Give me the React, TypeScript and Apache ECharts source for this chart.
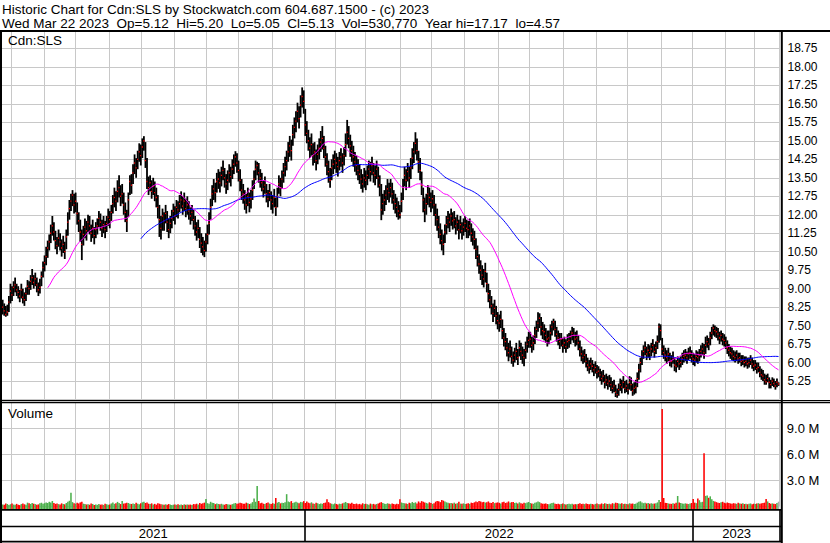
import React, { useEffect, useRef } from "react";
import * as echarts from "echarts";

// ---------------- DATA ----------------
const closes: number[] = [
  8.25, 8.10, 7.95, 8.05, 8.45, 8.90, 8.75, 9.05, 9.15, 8.95,
  8.85, 8.70, 8.95, 8.65, 8.55, 8.80, 9.10, 9.00, 9.30, 9.45,
  9.25, 9.40, 9.15, 8.95, 9.05, 9.50, 9.85, 10.05, 10.30, 10.65,
  10.90, 11.25, 11.55, 11.30, 10.95, 10.75, 11.05, 10.90, 10.65, 10.80,
  10.50, 11.10, 11.70, 12.25, 12.55, 12.80, 12.40, 12.55, 12.05, 11.75,
  11.30, 10.80, 11.20, 11.50, 11.35, 11.70, 11.55, 11.25, 11.45, 11.15,
  11.40, 11.55, 11.85, 11.70, 11.45, 11.60, 11.40, 11.65, 11.90, 11.80,
  12.10, 12.45, 12.70, 12.55, 12.95, 13.10, 12.75, 12.85, 12.40, 12.10,
  11.75, 12.60, 13.35, 13.20, 13.70, 14.10, 13.90, 14.25, 14.55, 14.40,
  14.75, 15.00, 14.20, 13.35, 13.10, 13.30, 12.95, 13.15, 12.90, 12.70,
  12.30, 11.80, 11.45, 11.95, 11.75, 12.05, 11.70, 11.40, 11.65, 11.85,
  12.15, 11.95, 12.30, 12.20, 12.45, 12.60, 12.35, 12.55, 12.25, 12.40,
  12.15, 11.95, 12.10, 11.80, 11.55, 11.30, 11.45, 11.00, 10.85, 10.70,
  10.55, 10.90, 11.20, 11.65, 12.30, 12.85, 13.05, 12.90, 13.35, 13.45,
  13.30, 13.60, 13.80, 13.50, 13.25, 13.40, 13.70, 13.55, 13.85, 14.05,
  14.35, 14.10, 13.80, 13.40, 13.00, 12.85, 12.60, 12.40, 12.75, 12.50,
  12.65, 13.00, 13.45, 13.85, 14.00, 13.70, 13.50, 13.30, 13.05, 13.20,
  12.85, 12.65, 12.90, 12.60, 12.45, 12.70, 12.30, 12.75, 13.25, 13.10,
  13.45, 13.70, 13.95, 14.20, 14.55, 14.80, 14.60, 15.25, 15.55, 15.80,
  16.20, 15.90, 16.45, 16.80, 16.60, 15.65, 15.30, 15.00, 14.70, 14.85,
  14.40, 14.55, 14.20, 14.45, 14.70, 14.95, 15.10, 14.70, 14.35, 14.05,
  13.75, 13.40, 13.90, 14.05, 14.25, 14.10, 13.95, 14.20, 14.35, 14.10,
  14.40, 14.85, 15.35, 15.10, 14.80, 14.60, 14.35, 14.15, 14.00, 13.80,
  13.65, 13.45, 13.25, 13.50, 13.40, 13.60, 13.85, 13.75, 14.00, 13.70,
  13.60, 13.85, 13.50, 13.20, 12.20, 12.45, 12.60, 12.80, 13.05, 12.90,
  13.10, 12.85, 12.60, 12.45, 12.30, 12.15, 12.00, 12.55, 13.10, 13.60,
  13.40, 13.75, 13.50, 13.90, 14.30, 14.55, 14.90, 14.60, 14.15, 13.80,
  13.20, 12.60, 12.20, 12.45, 12.85, 12.70, 12.50, 12.65, 12.40, 12.00,
  11.80, 11.50, 11.20, 10.95, 10.80, 11.30, 11.60, 11.85, 11.70, 11.95,
  11.75, 11.80, 11.55, 11.70, 11.40, 11.60, 11.35, 11.50, 11.65, 11.45,
  11.40, 11.55, 11.25, 11.10, 11.00, 10.60, 10.30, 10.00, 9.75, 9.55,
  9.40, 9.70, 9.20, 8.80, 8.55, 8.30, 8.00, 8.20, 7.90, 7.70,
  7.60, 7.75, 7.30, 7.00, 6.85, 6.60, 6.40, 6.55, 6.25, 6.10,
  6.30, 6.45, 6.20, 6.60, 6.45, 6.30, 6.20, 6.50, 6.75, 6.90,
  6.95, 6.70, 6.80, 7.10, 7.35, 7.60, 7.80, 7.45, 7.30, 7.25,
  7.10, 6.95, 7.00, 7.20, 7.45, 7.65, 7.35, 7.15, 7.00, 6.85,
  6.95, 6.70, 6.80, 6.65, 6.85, 6.90, 7.05, 7.20, 7.10, 6.95,
  7.00, 6.80, 6.55, 6.35, 6.20, 6.30, 6.05, 5.90, 5.80, 5.95,
  5.85, 5.70, 5.80, 5.60, 5.65, 5.50, 5.35, 5.45, 5.20, 5.30, 5.15,
  5.25, 5.10, 4.95, 5.05, 4.80, 4.70, 4.90, 5.10, 5.00, 5.20,
  4.95, 5.05, 4.90, 5.20, 5.10, 4.85, 4.95, 5.00, 5.35, 5.70,
  6.00, 6.25, 6.45, 6.60, 6.35, 6.50, 6.40, 6.55, 6.70, 6.45,
  6.60, 6.85, 7.45, 7.30, 6.55, 6.40, 6.30, 6.20, 6.35, 6.10,
  6.05, 6.20, 5.90, 5.85, 6.05, 5.95, 6.00, 6.15, 6.25, 6.30,
  6.20, 6.35, 6.40, 6.25, 6.15, 6.10, 6.25, 6.20, 6.30, 6.45,
  6.55, 6.40, 6.70, 6.85, 6.75, 7.00, 7.20, 7.40, 7.30, 7.25,
  7.15, 7.00, 7.10, 6.95, 6.90, 6.80, 6.60, 6.50, 6.40, 6.35,
  6.25, 6.20, 6.30, 6.15, 6.20, 6.05, 6.10, 6.00, 6.05, 5.95,
  6.00, 6.10, 5.95, 5.85, 5.90, 5.75, 5.80, 5.60, 5.50, 5.45,
  5.30, 5.22, 5.35, 5.20, 5.10, 5.25, 5.15, 5.05, 5.20, 5.13,
];

const highs: number[] = [
  8.55, 8.40, 8.30, 8.35, 8.70, 9.20, 9.10, 9.30, 9.45, 9.20,
  9.10, 8.95, 9.20, 9.00, 8.85, 9.05, 9.35, 9.30, 9.55, 9.80,
  9.55, 9.65, 9.45, 9.25, 9.40, 9.70, 10.10, 10.35, 10.70, 10.95,
  11.20, 11.60, 11.95, 11.70, 11.35, 11.10, 11.40, 11.25, 11.00, 11.15,
  10.90, 11.40, 12.10, 12.60, 12.85, 13.00, 12.85, 12.90, 12.50, 12.10,
  11.80, 11.40, 11.55, 11.85, 11.75, 12.00, 11.95, 11.60, 11.80, 11.50,
  11.70, 11.85, 12.15, 12.05, 11.80, 11.95, 11.75, 11.95, 12.25, 12.15,
  12.40, 12.80, 13.10, 12.95, 13.40, 13.60, 13.20, 13.25, 12.90, 12.50,
  12.20, 12.90, 13.60, 13.65, 14.05, 14.45, 14.30, 14.60, 14.90, 14.85,
  15.10, 15.19, 14.95, 14.30, 13.55, 13.60, 13.40, 13.50, 13.35, 13.10,
  12.80, 12.40, 11.95, 12.25, 12.10, 12.40, 12.15, 11.85, 11.95, 12.20,
  12.45, 12.35, 12.60, 12.55, 12.80, 12.95, 12.75, 12.90, 12.65, 12.75,
  12.55, 12.30, 12.40, 12.20, 11.95, 11.70, 11.80, 11.50, 11.25, 11.10,
  10.95, 11.25, 11.60, 12.10, 12.65, 13.20, 13.45, 13.30, 13.70, 13.85,
  13.75, 13.95, 14.20, 13.90, 13.65, 13.80, 14.05, 13.95, 14.25, 14.45,
  14.58, 14.50, 14.20, 13.85, 13.45, 13.25, 13.00, 12.85, 13.10, 12.90,
  13.00, 13.40, 13.80, 14.20, 14.15, 14.10, 13.85, 13.70, 13.40, 13.55,
  13.25, 13.00, 13.25, 12.95, 12.80, 13.05, 12.70, 13.10, 13.60, 13.50,
  13.80, 14.10, 14.35, 14.60, 14.95, 15.20, 15.05, 15.65, 15.95, 16.20,
  16.55, 16.40, 16.85, 17.17, 17.05, 16.30, 15.80, 15.45, 15.15, 15.30,
  14.90, 14.95, 14.65, 14.85, 15.10, 15.40, 15.60, 15.20, 14.80, 14.50,
  14.20, 13.90, 14.25, 14.45, 14.60, 14.50, 14.35, 14.55, 14.70, 14.50,
  14.75, 15.30, 15.85, 15.60, 15.25, 15.00, 14.80, 14.55, 14.40, 14.25,
  14.05, 13.85, 13.65, 13.90, 13.80, 14.00, 14.20, 14.15, 14.35, 14.10,
  14.00, 14.20, 13.95, 13.60, 13.25, 12.85, 13.00, 13.20, 13.45, 13.30,
  13.45, 13.30, 13.00, 12.85, 12.70, 12.55, 12.40, 12.90, 13.45, 13.95,
  13.85, 14.10, 13.95, 14.30, 14.70, 14.95, 15.35, 15.10, 14.60, 14.30,
  13.75, 13.10, 12.70, 12.85, 13.20, 13.10, 12.90, 13.00, 12.80, 12.45,
  12.25, 11.95, 11.65, 11.40, 11.20, 11.60, 11.95, 12.15, 12.05, 12.25,
  12.10, 12.15, 11.90, 12.00, 11.80, 11.95, 11.70, 11.85, 11.95, 11.80,
  11.75, 11.85, 11.65, 11.45, 11.35, 11.05, 10.75, 10.40, 10.15, 9.95,
  9.80, 10.05, 9.65, 9.20, 8.95, 8.70, 8.40, 8.55, 8.30, 8.05,
  7.95, 8.10, 7.75, 7.40, 7.20, 7.00, 6.80, 6.90, 6.65, 6.45,
  6.60, 6.80, 6.55, 6.90, 6.80, 6.65, 6.55, 6.85, 7.05, 7.25,
  7.25, 7.05, 7.10, 7.45, 7.70, 8.04, 8.00, 7.85, 7.65, 7.55,
  7.40, 7.30, 7.30, 7.55, 7.70, 7.78, 7.70, 7.45, 7.30, 7.20,
  7.20, 7.00, 7.05, 6.95, 7.15, 7.20, 7.30, 7.45, 7.40, 7.25,
  7.30, 7.10, 6.90, 6.65, 6.50, 6.55, 6.35, 6.20, 6.10, 6.20,
  6.10, 5.95, 6.05, 5.90, 5.85, 5.75, 5.65, 5.70, 5.50, 5.55, 5.45,
  5.50, 5.40, 5.25, 5.30, 5.10, 4.95, 5.15, 5.35, 5.30, 5.45,
  5.25, 5.30, 5.15, 5.45, 5.40, 5.15, 5.20, 5.30, 5.60, 5.95,
  6.20, 6.50, 6.70, 6.85, 6.65, 6.75, 6.70, 6.80, 6.95, 6.75,
  6.85, 7.10, 7.59, 7.55, 7.00, 6.70, 6.60, 6.50, 6.60, 6.40,
  6.30, 6.45, 6.20, 6.10, 6.25, 6.20, 6.25, 6.40, 6.50, 6.55,
  6.45, 6.60, 6.65, 6.50, 6.40, 6.35, 6.50, 6.45, 6.55, 6.70,
  6.80, 6.75, 7.05, 7.10, 7.00, 7.25, 7.45, 7.55, 7.50, 7.45,
  7.40, 7.25, 7.30, 7.20, 7.15, 7.05, 6.90, 6.75, 6.65, 6.60,
  6.50, 6.45, 6.50, 6.40, 6.40, 6.30, 6.30, 6.25, 6.25, 6.20,
  6.20, 6.30, 6.20, 6.10, 6.10, 6.00, 6.00, 5.85, 5.75, 5.70,
  5.55, 5.50, 5.55, 5.40, 5.30, 5.40, 5.35, 5.25, 5.35, 5.20,
];

const lows: number[] = [
  7.95, 7.90, 7.86, 7.90, 8.05, 8.40, 8.50, 8.70, 8.85, 8.70,
  8.60, 8.45, 8.60, 8.40, 8.30, 8.50, 8.75, 8.75, 8.95, 9.15,
  9.00, 9.10, 8.85, 8.70, 8.80, 9.10, 9.45, 9.70, 9.95, 10.25,
  10.55, 10.85, 11.15, 10.95, 10.60, 10.40, 10.70, 10.55, 10.30, 10.45,
  10.20, 10.60, 11.15, 11.80, 12.15, 12.35, 12.05, 12.10, 11.60, 11.30,
  10.90, 10.16, 10.75, 11.05, 10.95, 11.30, 11.20, 10.90, 11.05, 10.80,
  11.05, 11.20, 11.50, 11.35, 11.10, 11.25, 11.05, 11.30, 11.55, 11.45,
  11.75, 12.05, 12.30, 12.15, 12.50, 12.70, 12.35, 12.45, 12.00, 11.70,
  11.30, 11.90, 12.80, 12.85, 13.25, 13.65, 13.50, 13.85, 14.15, 14.00,
  14.30, 14.60, 13.90, 13.05, 12.80, 12.95, 12.65, 12.80, 12.55, 12.30,
  11.85, 11.10, 11.00, 11.35, 11.35, 11.65, 11.30, 11.05, 11.25, 11.45,
  11.75, 11.60, 11.90, 11.85, 12.10, 12.25, 12.00, 12.15, 11.90, 12.00,
  11.80, 11.60, 11.75, 11.40, 11.15, 10.95, 11.05, 10.65, 10.45, 10.35,
  10.28, 10.50, 10.80, 11.20, 11.80, 12.35, 12.60, 12.50, 12.90, 13.05,
  12.90, 13.15, 13.40, 13.10, 12.85, 13.00, 13.30, 13.15, 13.45, 13.65,
  13.95, 13.70, 13.35, 12.95, 12.60, 12.45, 12.20, 12.05, 12.35, 12.10,
  12.25, 12.60, 13.05, 13.40, 13.60, 13.30, 13.10, 12.95, 12.70, 12.85,
  12.50, 12.30, 12.55, 12.20, 12.05, 12.30, 11.95, 12.30, 12.85, 12.75,
  13.05, 13.30, 13.55, 13.80, 14.15, 14.35, 14.20, 14.80, 15.10, 15.35,
  15.75, 15.50, 15.95, 16.35, 16.10, 15.20, 14.90, 14.60, 14.30, 14.40,
  14.00, 14.10, 13.80, 14.05, 14.25, 14.55, 14.65, 14.30, 13.95, 13.60,
  13.30, 13.10, 13.40, 13.65, 13.85, 13.70, 13.55, 13.80, 13.95, 13.70,
  14.00, 14.35, 14.85, 14.70, 14.35, 14.15, 13.95, 13.75, 13.60, 13.40,
  13.25, 13.05, 12.90, 13.10, 13.00, 13.20, 13.45, 13.35, 13.60, 13.30,
  13.20, 13.45, 13.10, 12.75, 11.78, 12.00, 12.15, 12.40, 12.60, 12.50,
  12.70, 12.45, 12.20, 12.05, 11.90, 11.80, 11.85, 12.10, 12.60, 13.15,
  13.00, 13.35, 13.10, 13.45, 13.85, 14.10, 14.45, 14.20, 13.70, 13.40,
  12.80, 12.10, 11.70, 12.00, 12.40, 12.30, 12.10, 12.25, 11.95, 11.55,
  11.35, 11.05, 10.80, 10.55, 10.36, 10.85, 11.20, 11.45, 11.30, 11.55,
  11.40, 11.45, 11.20, 11.35, 11.00, 11.25, 11.00, 11.15, 11.30, 11.05,
  11.05, 11.15, 10.90, 10.75, 10.60, 10.20, 9.90, 9.60, 9.35, 9.15,
  9.05, 9.25, 8.85, 8.45, 8.20, 7.95, 7.65, 7.85, 7.55, 7.35,
  7.25, 7.40, 6.95, 6.65, 6.50, 6.25, 6.05, 6.20, 5.95, 5.83,
  6.00, 6.10, 5.90, 6.25, 6.10, 5.95, 5.85, 6.15, 6.40, 6.60,
  6.60, 6.40, 6.50, 6.75, 7.00, 7.25, 7.40, 7.10, 6.95, 6.90,
  6.80, 6.65, 6.75, 6.90, 7.10, 7.30, 7.05, 6.85, 6.70, 6.55,
  6.65, 6.40, 6.55, 6.40, 6.55, 6.60, 6.75, 6.90, 6.80, 6.65,
  6.70, 6.50, 6.25, 6.05, 5.95, 6.00, 5.80, 5.65, 5.55, 5.70,
  5.60, 5.45, 5.55, 5.35, 5.40, 5.25, 5.10, 5.20, 4.95, 5.05, 4.90,
  5.00, 4.85, 4.75, 4.80, 4.60, 4.57, 4.65, 4.85, 4.75, 4.95,
  4.75, 4.80, 4.70, 4.90, 4.85, 4.65, 4.70, 4.75, 5.00, 5.30,
  5.60, 5.90, 6.15, 6.30, 6.10, 6.20, 6.10, 6.25, 6.40, 6.20,
  6.35, 6.55, 6.80, 6.90, 6.30, 6.15, 6.05, 5.95, 6.05, 5.85,
  5.80, 5.95, 5.65, 5.60, 5.80, 5.70, 5.80, 5.90, 6.00, 6.05,
  5.95, 6.10, 6.15, 6.00, 5.90, 5.85, 6.00, 5.95, 6.05, 6.20,
  6.30, 6.15, 6.35, 6.60, 6.50, 6.70, 6.95, 7.10, 7.05, 7.00,
  6.90, 6.75, 6.85, 6.70, 6.65, 6.55, 6.35, 6.25, 6.15, 6.10,
  6.05, 6.00, 6.05, 5.95, 6.00, 5.85, 5.90, 5.80, 5.85, 5.75,
  5.80, 5.90, 5.75, 5.65, 5.70, 5.55, 5.60, 5.40, 5.30, 5.25,
  5.10, 5.10, 5.20, 4.95, 4.95, 5.05, 5.00, 4.90, 5.00, 5.05,
];

// daily volume, thousands of shares
const volumesK: number[] = [
  220, 180, 310, 260, 150, 240, 330, 200, 170, 280,
  190, 140, 260, 310, 230, 180, 420, 350, 270, 390,
  300, 250, 180, 220, 340, 410, 290, 360, 450, 380,
  520, 430, 610, 390, 280, 310, 250, 200, 340, 270,
  230, 380, 520, 640, 1560, 480, 360, 300, 410, 330,
  450, 520, 300, 260, 210, 240, 180, 330, 270, 150,
  200, 170, 260, 190, 220, 160, 300, 240, 180, 210,
  330, 450, 280, 360, 510, 390, 260, 600, 310, 350,
  420, 380, 300, 270, 330, 260, 410, 300, 230, 350,
  460, 520, 380, 440, 300, 260, 340, 220, 280, 190,
  360, 300, 250, 210, 180, 230, 170, 260, 200, 150,
  190, 220, 170, 250, 160, 200, 140, 230, 180, 210,
  170, 200, 150, 260, 230, 300, 210, 380, 290, 340,
  420, 840, 360, 300, 520, 410, 380, 250, 330, 270,
  240, 290, 210, 180, 260, 230, 200, 170, 250, 320,
  380, 290, 330, 410, 360, 280, 300, 420, 350, 270,
  310, 480, 900, 520, 2330, 610, 350, 420, 300, 270,
  380, 440, 320, 260, 360, 290, 950, 420, 500, 340,
  410, 380, 470, 1400, 560, 480, 600, 390, 450, 520,
  430, 360, 510, 470, 600, 380, 540, 420, 350, 460,
  310, 280, 400, 350, 260, 320, 290, 380, 430, 800,
  480, 360, 300, 250, 330, 270, 220, 300, 260, 340,
  420, 500, 380, 350, 300, 410, 280, 260, 320, 230,
  280, 200, 350, 260, 300, 240, 190, 310, 250, 280,
  220, 270, 330, 410, 480, 380, 300, 260, 350, 290,
  240, 310, 270, 220, 300, 250, 800, 440, 380, 350,
  320, 270, 410, 360, 500, 380, 460, 330, 560, 420,
  600, 520, 440, 390, 310, 460, 380, 280, 350, 530,
  620, 580, 480, 720, 650, 540, 460, 400, 350, 380,
  330, 420, 300, 360, 520, 310, 280, 340, 260, 300,
  350, 280, 420, 380, 460, 540, 480, 620, 560, 470,
  510, 430, 480, 560, 420, 380, 500, 360, 420, 450,
  400, 330, 470, 520, 380, 450, 560, 420, 480, 500,
  380, 420, 320, 460, 350, 300, 400, 360, 430, 500,
  380, 330, 290, 420, 460, 540, 480, 350, 300, 280,
  330, 260, 240, 310, 380, 420, 300, 260, 280, 230,
  270, 320, 250, 220, 260, 300, 240, 280, 210, 250,
  230, 280, 340, 260, 300, 250, 320, 270, 230, 290,
  260, 220, 280, 310, 250, 240, 330, 270, 350, 300, 260,
  300, 250, 360, 280, 420, 380, 330, 290, 340, 260,
  300, 270, 230, 350, 280, 320, 260, 300, 420, 520,
  580, 450, 360, 400, 330, 380, 300, 350, 280, 320,
  360, 450, 720, 500, 11230, 960, 400, 380, 330, 300,
  280, 350, 300, 420, 1190, 450, 380, 320, 290, 340,
  300, 260, 330, 380, 850, 420, 360, 900, 700, 480,
  520, 6120, 1200, 1250, 980, 1150, 800, 620, 550, 480,
  420, 380, 460, 520, 400, 350, 440, 380, 330, 300,
  360, 310, 280, 400, 330, 290, 350, 260, 300, 240,
  280, 330, 250, 300, 270, 320, 360, 280, 340, 380,
  420, 850, 560, 380, 300, 340, 290, 260, 380, 531,
];

const MA_SHORT = 30;
const MA_LONG = 90;

const priceMin = 4.5;
const priceMax = 19.5;
const priceStep = 0.75;
const volMax = 12e6;
const volStep = 3e6;

const titleLine = "Historic Chart for Cdn:SLS by Stockwatch.com 604.687.1500 - (c) 2023";
const quoteLine =
  "Wed Mar 22 2023\u00a0\u00a0Op=5.12\u00a0\u00a0Hi=5.20\u00a0\u00a0Lo=5.05\u00a0\u00a0Cl=5.13\u00a0\u00a0Vol=530,770\u00a0\u00a0Year hi=17.17\u00a0\u00a0lo=4.57";

const HOLIDAYS = [
  "2021-04-02", "2021-05-24", "2021-07-01", "2021-08-02", "2021-09-06", "2021-10-11",
  "2021-12-27", "2021-12-28", "2022-01-03", "2022-02-21", "2022-04-15", "2022-05-23",
  "2022-07-01", "2022-08-01", "2022-09-05", "2022-10-10", "2022-12-26", "2022-12-27",
  "2023-01-02", "2023-02-20",
];

function tradingDays(): string[] {
  const out: string[] = [];
  const d = new Date(Date.UTC(2021, 2, 24));
  const end = Date.UTC(2023, 2, 22);
  while (d.getTime() <= end) {
    const wd = d.getUTCDay();
    const s = d.toISOString().slice(0, 10);
    if (wd !== 0 && wd !== 6 && HOLIDAYS.indexOf(s) < 0) out.push(s);
    d.setUTCDate(d.getUTCDate() + 1);
  }
  return out;
}

const FONT = '"Liberation Sans", Arial, Helvetica, sans-serif';

export default function App() {
  const ref = useRef<HTMLDivElement>(null);

  useEffect(() => {
    if (!ref.current) return;
    const chart = echarts.init(ref.current, null, { renderer: "svg" });

    const allDates = tradingDays();
    const n = Math.min(allDates.length, closes.length, highs.length, lows.length, volumesK.length);
    const dates = allDates.slice(0, n);

    const monthStarts = new Set<number>();
    const yearStarts = new Set<number>();
    const yearRanges: { y: string; a: number; b: number }[] = [];
    for (let i = 0; i < n; i++) {
      if (i === 0 || dates[i].slice(0, 4) !== dates[i - 1].slice(0, 4)) {
        if (i > 0) yearStarts.add(i);
        yearRanges.push({ y: dates[i].slice(0, 4), a: i, b: i });
      }
      yearRanges[yearRanges.length - 1].b = i;
      if (i > 0 && dates[i].slice(0, 7) !== dates[i - 1].slice(0, 7)) monthStarts.add(i);
    }
    const yearMid = new Map<number, string>();
    yearRanges.forEach((r) => yearMid.set(Math.round((r.a + r.b) / 2), r.y));

    const sma = (p: number) =>
      closes.slice(0, n).map((_, i) => {
        if (i < p - 1) return null;
        let s = 0;
        for (let k = i - p + 1; k <= i; k++) s += closes[k];
        return +(s / p).toFixed(4);
      });

    const ohlc = dates.map((_, i) => [i, highs[i], lows[i], closes[i]]);
    const vol = dates.map((_, i) => {
      let code = 0; // 0 up/green, 1 down/red, 2 grey
      if (i === n - 1) code = 2;
      else if (i > 0 && closes[i] < closes[i - 1]) code = 1;
      else if (i > 0 && closes[i] === closes[i - 1]) code = 2;
      return [i, volumesK[i] * 1000, code];
    });

    const GL = 1.92;
    const GR = 779.3;
    const GW = GR - GL;
    const grey = "#c8c8c8";

    const xAxisBase = (g: number) => ({
      type: "category",
      gridIndex: g,
      data: dates,
      boundaryGap: true,
      axisLine: { show: false },
      axisTick: { show: false },
      axisLabel: { show: false },
      splitLine: {
        show: true,
        interval: (i: number) => monthStarts.has(i),
        lineStyle: { color: grey, width: 1 },
      },
    });

    const option: any = {
      animation: false,
      backgroundColor: "#ffffff",
      grid: [
        { left: GL, width: GW, top: 30, height: 369.5 },
        { left: GL, width: GW, top: 402.3, height: 104 },
        { left: GL, width: GW, top: 510, height: 31 },
      ],
      xAxis: [
        xAxisBase(0),
        xAxisBase(1),
        {
          ...xAxisBase(2),
          splitLine: {
            show: true,
            interval: (i: number) => yearStarts.has(i),
            lineStyle: { color: "#000", width: 1.6 },
          },
          axisLabel: {
            show: true,
            inside: true,
            margin: 1,
            interval: (i: number) => yearMid.has(i),
            formatter: (v: string) => v.slice(0, 4),
            color: "#000",
            fontSize: 13,
            fontFamily: FONT,
          },
        },
      ],
      yAxis: [
        {
          type: "value",
          gridIndex: 0,
          position: "right",
          min: priceMin,
          max: priceMax,
          interval: priceStep,
          axisLine: { show: false },
          axisTick: { show: false },
          axisLabel: {
            margin: 8.2,
            showMinLabel: false,
            showMaxLabel: false,
            formatter: (v: number) => v.toFixed(2),
            color: "#000",
            fontSize: 12,
            fontFamily: FONT,
          },
          splitLine: { show: true, lineStyle: { color: grey, width: 1 } },
        },
        {
          type: "value",
          gridIndex: 1,
          position: "right",
          min: 0,
          max: volMax,
          interval: volStep,
          axisLine: { show: false },
          axisTick: { show: false },
          axisLabel: {
            margin: 7.5,
            showMinLabel: false,
            showMaxLabel: false,
            formatter: (v: number) => (v / 1e6).toFixed(1) + " M",
            color: "#000",
            fontSize: 13,
            fontFamily: FONT,
          },
          splitLine: { show: true, lineStyle: { color: grey, width: 1 } },
        },
        { type: "value", gridIndex: 2, show: false, min: 0, max: 1 },
      ],
      series: [
        {
          type: "custom",
          name: "range",
          xAxisIndex: 0,
          yAxisIndex: 0,
          silent: true,
          z: 2,
          encode: { x: 0, y: [1, 2] },
          data: ohlc,
          renderItem: (params: any, api: any) => {
            const i = api.value(0);
            const ph = api.coord([i, api.value(1)]);
            const pl = api.coord([i, api.value(2)]);
            const pc = api.coord([i, api.value(3)]);
            return {
              type: "group",
              children: [
                {
                  type: "rect",
                  shape: { x: ph[0] - 0.9, y: ph[1], width: 1.8, height: Math.max(1, pl[1] - ph[1]) },
                  style: { fill: "#000" },
                },
                {
                  type: "rect",
                  shape: { x: pc[0] - 0.65, y: pc[1] - 0.65, width: 1.3, height: 1.3 },
                  style: { fill: "#ff0000" },
                },
              ],
            };
          },
        },
        {
          type: "line",
          name: "MA" + MA_LONG,
          xAxisIndex: 0,
          yAxisIndex: 0,
          data: sma(MA_LONG),
          showSymbol: false,
          silent: true,
          z: 4,
          lineStyle: { color: "#0000ff", width: 1 },
        },
        {
          type: "line",
          name: "MA" + MA_SHORT,
          xAxisIndex: 0,
          yAxisIndex: 0,
          data: sma(MA_SHORT),
          showSymbol: false,
          silent: true,
          z: 5,
          lineStyle: { color: "#ff00ff", width: 1 },
        },
        {
          type: "custom",
          name: "volume",
          xAxisIndex: 1,
          yAxisIndex: 1,
          silent: true,
          z: 2,
          encode: { x: 0, y: 1 },
          data: vol,
          renderItem: (params: any, api: any) => {
            const i = api.value(0);
            const p = api.coord([i, api.value(1)]);
            const w = api.size([1, 0])[0];
            const cs = params.coordSys;
            const bottom = cs.y + cs.height + 2.7;
            const code = api.value(2);
            const fill = code === 1 ? "#ff0000" : code === 2 ? "#a8a8a8" : "#4cb04c";
            return {
              type: "rect",
              shape: { x: p[0] - w / 2, y: p[1], width: w, height: bottom - p[1] },
              style: { fill },
            };
          },
        },
      ],
      graphic: [
        { type: "rect", z: 100, silent: true, shape: { x: 0, y: 30, width: 830, height: 2 }, style: { fill: "#000" } },
        { type: "rect", z: 100, silent: true, shape: { x: 0, y: 30, width: 2, height: 513 }, style: { fill: "#000" } },
        { type: "rect", z: 100, silent: true, shape: { x: 780.8, y: 30, width: 2, height: 513 }, style: { fill: "#000" } },
        { type: "rect", z: 100, silent: true, shape: { x: 0, y: 400, width: 830, height: 1.2 }, style: { fill: "#000" } },
        { type: "rect", z: 100, silent: true, shape: { x: 0, y: 402, width: 830, height: 1.2 }, style: { fill: "#000" } },
        { type: "rect", z: 100, silent: true, shape: { x: 0, y: 509, width: 782, height: 1.7 }, style: { fill: "#000" } },
        { type: "rect", z: 100, silent: true, shape: { x: 0, y: 525.8, width: 782, height: 1.5 }, style: { fill: "#000" } },
        { type: "rect", z: 100, silent: true, shape: { x: 0, y: 540.7, width: 782, height: 1.7 }, style: { fill: "#000" } },
        {
          type: "text", z: 100, silent: true, x: 2, y: 9,
          style: { text: titleLine, font: "13.5px " + FONT, fill: "#000", textVerticalAlign: "middle" },
        },
        {
          type: "text", z: 100, silent: true, x: 2, y: 23.5,
          style: { text: quoteLine, font: "13.5px " + FONT, fill: "#000", textVerticalAlign: "middle" },
        },
        {
          type: "text", z: 100, silent: true, x: 8, y: 40.8,
          style: { text: "Cdn:SLS", font: "13.5px " + FONT, fill: "#000", textVerticalAlign: "middle" },
        },
        {
          type: "text", z: 100, silent: true, x: 8, y: 413,
          style: { text: "Volume", font: "13.5px " + FONT, fill: "#000", textVerticalAlign: "middle" },
        },
      ],
    };

    chart.setOption(option);
    return () => chart.dispose();
  }, []);

  return (
    <div
      ref={ref}
      style={{ position: "fixed", left: 0, top: 0, width: 830, height: 543, background: "#fff" }}
    />
  );
}
